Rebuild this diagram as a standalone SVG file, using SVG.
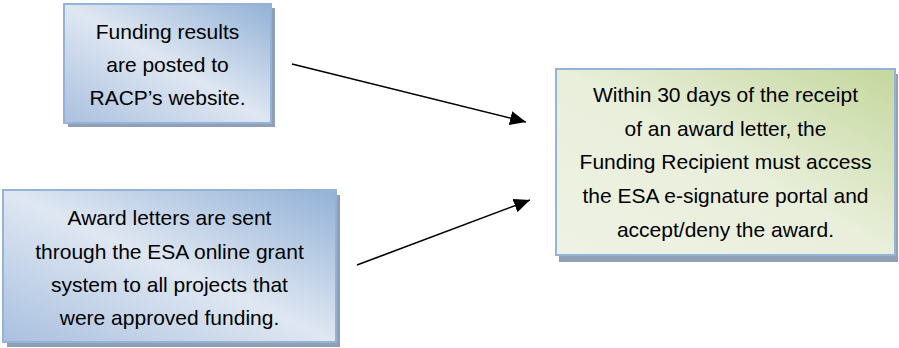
<svg xmlns="http://www.w3.org/2000/svg" width="899" height="348" viewBox="0 0 899 348">
<defs>
<linearGradient id="blue" x1="0" y1="1" x2="1" y2="0">
<stop offset="0" stop-color="#a9c0df"/>
<stop offset="0.5" stop-color="#dfe7f2"/>
<stop offset="1" stop-color="#93b1d6"/>
</linearGradient>
<linearGradient id="green" x1="0" y1="1" x2="1" y2="0">
<stop offset="0" stop-color="#eef2e4"/>
<stop offset="0.5" stop-color="#e9efdb"/>
<stop offset="1" stop-color="#c4d79d"/>
</linearGradient>
<marker id="arr" viewBox="0 0 10 10" refX="10" refY="5" markerWidth="10" markerHeight="9" markerUnits="userSpaceOnUse" orient="auto">
<path d="M0,0 L10,5 L0,10 Z" fill="#000"/>
</marker>
<marker id="ah" viewBox="0 0 16 14" refX="16" refY="7" markerWidth="16" markerHeight="14" markerUnits="userSpaceOnUse" orient="auto">
<path d="M0,0 L16,7 L0,14 Z" fill="#000"/>
</marker>
</defs>
<style>
.shadow{fill:#8e9fb6}
.box{stroke:#95b3d7;stroke-width:2}
.t{font-family:"Liberation Sans",Arial,sans-serif;font-size:21px;fill:#000;text-anchor:middle}
.conn{stroke:#000;stroke-width:1.6;fill:none}
</style>
<g id="node-funding-results">
<rect class="shadow" x="68" y="8" width="207" height="119"/>
<rect class="box" x="64" y="4" width="207" height="119" fill="url(#blue)"/>
<text class="t" x="167.5" y="39">Funding results</text>
<text class="t" x="167.5" y="72">are posted to</text>
<text class="t" x="167.5" y="105">RACP’s website.</text>
</g>
<g id="node-award-letters">
<rect class="shadow" x="7" y="195" width="333" height="152"/>
<rect class="box" x="3" y="190" width="333" height="152" fill="url(#blue)"/>
<text class="t" x="169.5" y="225">Award letters are sent</text>
<text class="t" x="169.5" y="259">through the ESA online grant</text>
<text class="t" x="169.5" y="292">system to all projects that</text>
<text class="t" x="169.5" y="325">were approved funding.</text>
</g>
<g id="node-within-30-days">
<rect class="shadow" x="559" y="74" width="339" height="188"/>
<rect class="box" x="556" y="69" width="339" height="186" fill="url(#green)"/>
<text class="t" x="725.5" y="102">Within 30 days of the receipt</text>
<text class="t" x="725.5" y="136">of an award letter, the</text>
<text class="t" x="725.5" y="169">Funding Recipient must access</text>
<text class="t" x="725.5" y="203">the ESA e-signature portal and</text>
<text class="t" x="725.5" y="237">accept/deny the award.</text>
</g>
<g id="connectors">
<line class="conn" x1="292" y1="64" x2="526" y2="122" marker-end="url(#ah)"/>
<line class="conn" x1="357" y1="265" x2="530" y2="200" marker-end="url(#ah)"/>
</g>
</svg>
